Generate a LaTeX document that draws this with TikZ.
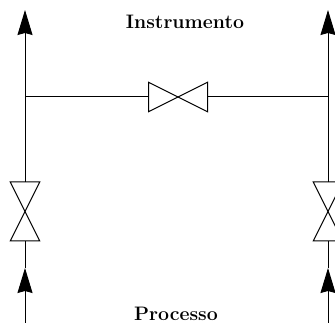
\documentclass[tikz,border=0pt]{standalone}
\usepackage{fontspec}
\usepackage{tikz}
\usetikzlibrary{positioning, shapes.geometric, arrows.meta}

\begin{document}
\begin{tikzpicture}[x = 1pt, y = -1pt, line width = 1pt,
    half/.style = { draw, shape = isosceles triangle, isosceles triangle apex angle = 52, isosceles triangle stretches, minimum width = 29.5pt, minimum height = 29.5pt, inner sep = 0pt, outer sep = 0pt, anchor = apex },
    flow/.style = { -{Stealth[length = 25pt, width = 15pt, inset = 2pt]} },
    label/.style = { font = \bfseries\fontsize{19.5}{21}\selectfont, inner sep = 0pt }]
    \clip (0, 0) rectangle (335, 323);

    % valves
    \node[half, shape border rotate = 0] (vm1) at (178, 97) { };
    \node[half, shape border rotate = 180] (vm2) at (178, 97) { };
    \node[half, shape border rotate = 270] (vl1) at (25, 211.5) { };
    \node[half, shape border rotate = 90] (vl2) at (25, 211.5) { };
    \node[half, shape border rotate = 270] (vr1) at (328, 211.5) { };
    \node[half, shape border rotate = 90] (vr2) at (328, 211.5) { };

    % ends of the lines
    \coordinate (tl) at (25, 10);
    \coordinate (tr) at (328, 10);
    \coordinate (ml) at (25, 97);
    \coordinate (mr) at (328, 97);
    \coordinate (al) at (25, 268);
    \coordinate (ar) at (328, 268);
    \coordinate (bl) at (25, 323);
    \coordinate (br) at (328, 323);

    \draw[flow] (vl1.lower side) -- (tl);
    \draw[flow] (vr1.lower side) -- (tr);
    \draw (ml) -- (vm1.lower side);
    \draw (vm2.lower side) -- (mr);
    \draw[flow] (bl) -- (al);
    \draw[flow] (br) -- (ar);
    \draw (al) -- (vl2.lower side);
    \draw (ar) -- (vr2.lower side);

    \node[label] (inst) at (185, 22) { Instrumento };
    \node[label] (proc) at (176, 314) { Processo };
\end{tikzpicture}
\end{document}
